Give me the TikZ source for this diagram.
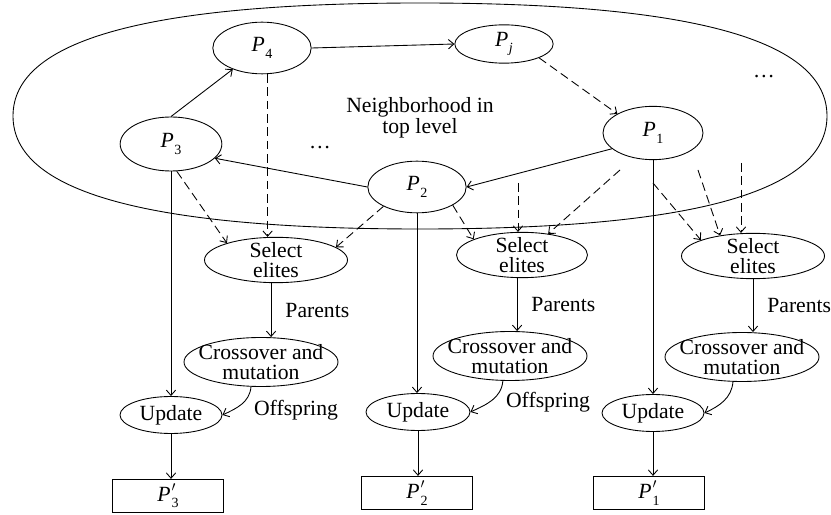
\documentclass[tikz,border=0pt]{standalone}
\usepackage{fontspec}
\setmainfont{Liberation Serif}
\usetikzlibrary{positioning, shapes.geometric, arrows.meta}
\newcommand{\popsub}[1]{\textit{P}\kern0.03em\raisebox{-0.3em}{\fontsize{12}{12}\selectfont #1}}
\newcommand{\popnew}[1]{\textit{P}\kern0.05em\rlap{\raisebox{0.45em}{\fontsize{12}{12}\selectfont$\prime$}}\raisebox{-0.3em}{\fontsize{12}{12}\selectfont #1}}
\tikzstyle{pop} = [ellipse, draw, inner sep=0pt, minimum width=2.95cm,
                 minimum height=1.55cm]
\tikzstyle{task} = [ellipse, draw, align=center, inner xsep=-10pt,
                 inner ysep=-5pt]
\tikzstyle{result} = [rectangle, draw, minimum width=3.35cm,
                 minimum height=1cm]
\tikzstyle{branch} = [draw, -{Straight Barb[length=1.6mm, width=2.8mm]}]
\tikzstyle{hint} = [branch, dash pattern=on 2.6mm off 1.4mm]
\tikzset{
	select/.style={task, minimum width=4.29cm, minimum height=1.36cm},
	cross/.style={task, minimum width=4.62cm, minimum height=1.47cm},
	update/.style={task, minimum width=3.06cm, minimum height=1.11cm},
}

\begin{document}
\begin{tikzpicture}[x=0.03cm, y=-0.03cm, line width=0.75pt,
	font=\fontsize{18.5}{17.5}\selectfont]

\useasboundingbox (0,0) rectangle (831,515);

% neighborhood
\draw (13,116) .. controls (13,40) and (147,3) .. (420,3)
	.. controls (693,3) and (827,40) .. (827,116)
	.. controls (827,192) and (693,229) .. (420,229)
	.. controls (147,229) and (13,192) .. (13,116) -- cycle;
\node [align=center] at (420,118) (hood) {Neighborhood in\\top level};
\node at (320,148) (dots1) {\dots};
\node at (764,77) (dots2) {\dots};

\node [pop] at (262,48) (p4) {\popsub{4}};
\node [pop, minimum height=1.15cm] at (504,44) (pj) {\popsub{\textit{j}}};
\node [pop, minimum width=3.05cm, minimum height=1.62cm] at (171,144) (p3) {\popsub{3}};
\node [pop] at (417,187) (p2) {\popsub{2}};
\node [pop, minimum width=3cm, minimum height=1.6cm] at (653,133) (p1) {\popsub{1}};

\node [select] at (276,260) (sel1) {Select\\elites};
\node [select, minimum width=3.93cm] at (522,255) (sel2) {Select\\elites};
\node [select] at (753,256) (sel3) {Select\\elites};

\node [cross] at (261,362) (cross1) {Crossover and\\mutation};
\node [cross] at (510,356) (cross2) {Crossover and\\mutation};
\node [cross] at (742,357) (cross3) {Crossover and\\mutation};

\node [update] at (171,415) (upd1) {Update};
\node [update, minimum width=3.12cm] at (418,412) (upd2) {Update};
\node [update] at (653,413) (upd3) {Update};

\node [result] at (168,496) (res1) {\popnew{3}};
\node [result] at (417,493) (res2) {\popnew{2}};
\node [result] at (649,493) (res3) {\popnew{1}};

\node at (296,410) (off1) {Offspring};
\node at (548,402) (off2) {Offspring};

% other neighbors
\coordinate (src2a) at (518,183);
\coordinate (src2b) at (620,170);
\coordinate (src3a) at (653,183);
\coordinate (src3b) at (698,170);
\coordinate (src3c) at (741,163);

\path [branch] (p4.east) -- (pj.west);
\path [branch] (p3.north) -- (p4.216);
\path [branch] (p2.west) -- (p3.-18);
\path [branch] (p1.201) -- (p2.east);
\path [hint] (pj.south east) -- (p1.north west);

\path [hint] (p3.-78) -- (sel1.161);
\path [hint] (p4.-78) -- (p4.-78 |- sel1.north);
\path [hint] (p2.210) -- (sel1.12);
\path [hint] (p2.-27) -- (sel2.162);
\path [hint] (src2a) -- (src2a |- sel2.north);
\path [hint] (src2b) -- (sel2.39);
\path [hint] (src3a) -- (sel3.163);
\path [hint] (src3b) -- (sel3.148);
\path [hint] (src3c) -- (src3c |- sel3.north);

\path [branch] (p3.south) -- (upd1.north);
\path [branch] (p2.south) -- (p2.south |- upd2.north);
\path [branch] (p1.south) -- (p1.south |- upd3.north);

\path [branch] (sel1.258) -- (sel1.258 |- cross1.north)
	node [midway, right=0.3cm] {Parents};
\path [branch] (sel2.258) -- (sel2.258 |- cross2.north)
	node [midway, right=0.3cm] {Parents};
\path [branch] (sel3.south) -- (sel3.south |- cross3.north)
	node [midway, right=0.3cm] {Parents};

\path [branch] (cross1.248) to [out=-95, in=25] (upd1.east);
\path [branch] (cross2.254) to [out=-95, in=25] (upd2.east);
\path [branch] (cross3.250) to [out=-95, in=25] (upd3.east);

\path [branch] (upd1.south) -- (upd1.south |- res1.north);
\path [branch] (upd2.south) -- (upd2.south |- res2.north);
\path [branch] (upd3.south) -- (upd3.south |- res3.north);

\end{tikzpicture}
\end{document}
